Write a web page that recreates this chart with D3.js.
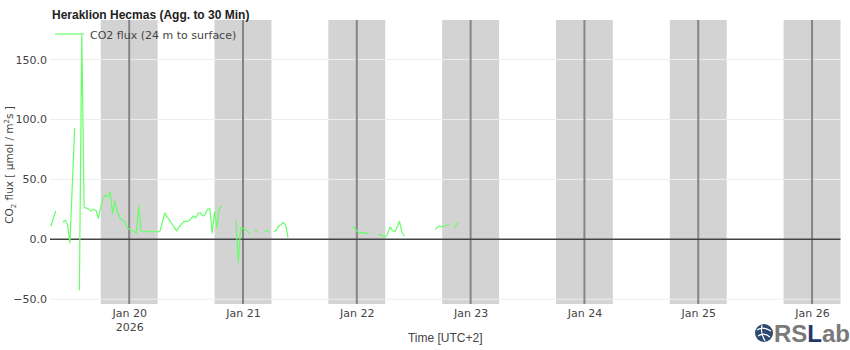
<!DOCTYPE html>
<html>
<head>
<meta charset="utf-8">
<script src="https://cdn.jsdelivr.net/npm/d3@7"></script>
<style>
  body { margin: 0; background: #fff; }
  svg { display: block; }
</style>
</head>
<body>
<div id="chart"></div>
<script>

// 30 min aggregated CO2 flux, null = gap in the record
var times = [
  "2026-01-19 07:30", "2026-01-19 08:30", "2026-01-19 09:00",
  "2026-01-19 10:00", "2026-01-19 10:30", "2026-01-19 11:00", "2026-01-19 11:30", "2026-01-19 12:30", "2026-01-19 13:00",
  "2026-01-19 13:30", "2026-01-19 14:00", "2026-01-19 14:30", "2026-01-19 15:00", "2026-01-19 15:30", "2026-01-19 16:00",
  "2026-01-19 16:30", "2026-01-19 17:00", "2026-01-19 17:30", "2026-01-19 18:00", "2026-01-19 18:30", "2026-01-19 19:00",
  "2026-01-19 19:30", "2026-01-19 20:00", "2026-01-19 20:30", "2026-01-19 21:00", "2026-01-19 21:30", "2026-01-19 22:00",
  "2026-01-19 22:30", "2026-01-19 23:00", "2026-01-19 23:30",
  "2026-01-20 00:00", "2026-01-20 00:30", "2026-01-20 01:00", "2026-01-20 01:30", "2026-01-20 02:00", "2026-01-20 02:30",
  "2026-01-20 03:00", "2026-01-20 03:30", "2026-01-20 04:00", "2026-01-20 04:30", "2026-01-20 05:00", "2026-01-20 05:30",
  "2026-01-20 06:00", "2026-01-20 06:30", "2026-01-20 07:00", "2026-01-20 07:30", "2026-01-20 08:00", "2026-01-20 08:30",
  "2026-01-20 09:00", "2026-01-20 09:30", "2026-01-20 10:00", "2026-01-20 10:30", "2026-01-20 11:00", "2026-01-20 11:30",
  "2026-01-20 12:00", "2026-01-20 12:30", "2026-01-20 13:00", "2026-01-20 13:30", "2026-01-20 14:00", "2026-01-20 14:30",
  "2026-01-20 15:00", "2026-01-20 15:30", "2026-01-20 16:00", "2026-01-20 16:30", "2026-01-20 17:00", "2026-01-20 17:30",
  "2026-01-20 18:00", "2026-01-20 18:30", "2026-01-20 19:00", "2026-01-20 19:30", "2026-01-20 20:00",
  "2026-01-20 22:30", "2026-01-20 23:00", "2026-01-20 23:30",
  "2026-01-21 00:00", "2026-01-21 00:30", "2026-01-21 01:00", "2026-01-21 01:30", "2026-01-21 02:00",
  "2026-01-21 02:30", "2026-01-21 03:00", "2026-01-21 03:30",
  "2026-01-21 04:30", "2026-01-21 05:00", "2026-01-21 05:30", "2026-01-21 06:00",
  "2026-01-21 06:30", "2026-01-21 07:00", "2026-01-21 07:30", "2026-01-21 08:00", "2026-01-21 08:30", "2026-01-21 09:00",
  "2026-01-21 09:30", "2026-01-21 10:00",
  "2026-01-21 23:00", "2026-01-21 23:30",
  "2026-01-22 00:00", "2026-01-22 00:30", "2026-01-22 01:00", "2026-01-22 01:30", "2026-01-22 02:00", "2026-01-22 02:30",
  "2026-01-22 03:00",
  "2026-01-22 04:30", "2026-01-22 05:00", "2026-01-22 05:30", "2026-01-22 06:00", "2026-01-22 06:30", "2026-01-22 07:00",
  "2026-01-22 07:30", "2026-01-22 08:00", "2026-01-22 08:30", "2026-01-22 09:00", "2026-01-22 09:30", "2026-01-22 10:00",
  "2026-01-22 10:30",
  "2026-01-22 16:30", "2026-01-22 17:00", "2026-01-22 17:30", "2026-01-22 18:00", "2026-01-22 18:30", "2026-01-22 19:00",
  "2026-01-22 19:30", "2026-01-22 20:00",
  "2026-01-22 20:30", "2026-01-22 21:00", "2026-01-22 21:30"
];

var flux = [
  11, 23.6, null,
  14.2, 15.9, 12.5, -3, 92.8, null,
  -42.6, 171, 26.5, 26, 25, 23.5,
  25, 24, 17.5, 27, 34, 36.8,
  35.4, 39.5, 21.5, 32, 23, 18,
  15.9, 15.3, 10,
  8.5, 7.5, 7, 4.8, 27.6, 6.9,
  6.1, 6.9, 6.1, 6.9, 6.1, 6.9,
  6.1, 6.9, 14, 22, 18.5, 16,
  13, 10, 7, 10, 12.5, 14.5,
  15.2, 15.2, 17, 19.5, 17.8, 21.5,
  22.3, 19.5, 20.6, 25, 25.5, 5.3,
  23, 9.8, 25.7, 28, null,
  15.9, -19, 9.5,
  9, 8.5, 6.5, 4, null,
  7.5, 6.1, null,
  6.1, 7.5, 5.6, null,
  6.1, 7.5, 11, 12, 14, 12,
  1.4, null,
  10.3, 9.5,
  7, 5.3, 5.5, 5.6, 4.7, 5.3,
  null,
  4.2, 3.5, 2.8, 1.9, 4.7, 10.3,
  7.5, 6.1, 10.3, 15, 6.1, 2.5,
  null,
  8.4, 10, 11.1, 10.3, 11.1, 11.7,
  12.3, null,
  9.5, 12, 14.5
];

// shaded night periods (18:00 - 06:00)
var nightStart = ["2026-01-19 18:00", "2026-01-20 18:00", "2026-01-21 18:00", "2026-01-22 18:00",
                  "2026-01-23 18:00", "2026-01-24 18:00", "2026-01-25 18:00"];
var nightEnd   = ["2026-01-20 06:00", "2026-01-21 06:00", "2026-01-22 06:00", "2026-01-23 06:00",
                  "2026-01-24 06:00", "2026-01-25 06:00", "2026-01-26 06:00"];

var dayTicks  = ["2026-01-20", "2026-01-21", "2026-01-22", "2026-01-23", "2026-01-24", "2026-01-25", "2026-01-26"];
var dayLabels = ["Jan 20", "Jan 21", "Jan 22", "Jan 23", "Jan 24", "Jan 25", "Jan 26"];
var yTicks = [-50, 0, 50, 100, 150];

var xRange = ["2026-01-19 07:18", "2026-01-26 06:00"];
var yRange = [-54, 183];

var parseTime = d3.timeParse("%Y-%m-%d %H:%M");
var parseDay = d3.timeParse("%Y-%m-%d");

var data = times.map(function(t, i) { return {t: parseTime(t), v: flux[i]}; });

// dimensions
var W = 850, H = 350;
var margin = {top: 20, right: 9.5, bottom: 46, left: 50},
    width = W - margin.left - margin.right,
    height = H - margin.top - margin.bottom;

var x = d3.scaleTime()
    .domain(xRange.map(parseTime))
    .range([0, width]);
var y = d3.scaleLinear()
    .domain(yRange)
    .range([height, 0]);

var svg = d3.select("#chart").append("svg")
    .attr("width", W)
    .attr("height", H);

var g = svg.append("g")
    .attr("transform", "translate(" + margin.left + "," + margin.top + ")");

// night bands
g.append("g").selectAll("rect")
    .data(nightStart)
    .enter().append("rect")
    .attr("x", function(d) { return x(parseTime(d)); })
    .attr("width", function(d, i) { return x(parseTime(nightEnd[i])) - x(parseTime(d)); })
    .attr("y", 0)
    .attr("height", height)
    .attr("fill", "#d3d3d3");

// horizontal grid
g.append("g").selectAll("line")
    .data(yTicks.filter(function(d) { return d !== 0; }))
    .enter().append("line")
    .attr("x1", 0).attr("x2", width)
    .attr("y1", function(d) { return y(d); })
    .attr("y2", function(d) { return y(d); })
    .attr("stroke", "#eeeeee")
    .attr("stroke-width", 1);

// midnight lines
g.append("g").selectAll("line")
    .data(dayTicks)
    .enter().append("line")
    .attr("x1", function(d) { return x(parseDay(d)); })
    .attr("x2", function(d) { return x(parseDay(d)); })
    .attr("y1", 0).attr("y2", height)
    .attr("stroke", "#858585")
    .attr("stroke-width", 2);

// zero line
g.append("line")
    .attr("x1", 0).attr("x2", width)
    .attr("y1", y(0)).attr("y2", y(0))
    .attr("stroke", "#444")
    .attr("stroke-width", 1.5);

// the flux trace
var line = d3.line()
    .defined(function(d) { return d.v !== null; })
    .x(function(d) { return x(d.t); })
    .y(function(d) { return y(d.v); });

g.append("path")
    .datum(data)
    .attr("fill", "none")
    .attr("stroke", "#66ff66")
    .attr("stroke-width", 1.2)
    .attr("stroke-linejoin", "round")
    .attr("d", line);

// y axis
var yAxis = g.append("g")
    .call(d3.axisLeft(y).tickValues(yTicks).tickSize(0).tickPadding(3)
        .tickFormat(d3.format(".1f")));
yAxis.select(".domain").remove();
yAxis.selectAll("text")
    .attr("fill", "#444")
    .style("font-family", "'DejaVu Sans', Verdana, sans-serif")
    .style("font-size", "11px");

// x axis
var xAxis = g.append("g")
    .attr("transform", "translate(0," + height + ")")
    .call(d3.axisBottom(x).tickValues(dayTicks.map(parseDay)).tickSize(0).tickPadding(5)
        .tickFormat(function(d, i) { return dayLabels[i]; }));
xAxis.select(".domain").remove();
xAxis.selectAll("text")
    .attr("fill", "#444")
    .style("font-family", "'DejaVu Sans', Verdana, sans-serif")
    .style("font-size", "11px");
// year under the first tick
xAxis.select(".tick text")
    .append("tspan")
    .attr("x", 0)
    .attr("dy", "1.3em")
    .text("2026");

// titles
svg.append("text")
    .attr("x", 52).attr("y", 18.5)
    .style("font-family", "'Liberation Sans', Arial, sans-serif")
    .style("font-size", "12px")
    .style("font-weight", "bold")
    .attr("fill", "#222")
    .text("Heraklion Hecmas (Agg. to 30 Min)");

svg.append("text")
    .attr("x", margin.left + width / 2).attr("y", 342)
    .attr("text-anchor", "middle")
    .style("font-family", "'Liberation Sans', Arial, sans-serif")
    .style("font-size", "12px")
    .attr("fill", "#444")
    .text("Time [UTC+2]");

var yTitle = svg.append("text")
    .attr("transform", "translate(13," + (margin.top + y(62)) + ") rotate(-90)")
    .attr("text-anchor", "middle")
    .style("font-family", "'DejaVu Sans', Verdana, sans-serif")
    .style("font-size", "10.5px")
    .attr("fill", "#444");
yTitle.append("tspan").text("CO");
yTitle.append("tspan").attr("font-size", "7px").attr("dy", 3).text("2");
yTitle.append("tspan").attr("dy", -3).text(" flux [ \u03bcmol / m");
yTitle.append("tspan").attr("font-size", "7px").attr("dy", -4.5).text("2");
yTitle.append("tspan").attr("dy", 4.5).text("s ]");

// legend
var legend = svg.append("g");
legend.append("line")
    .attr("x1", 55).attr("x2", 84)
    .attr("y1", 34).attr("y2", 34)
    .attr("stroke", "#66ff66")
    .attr("stroke-width", 1.2);
legend.append("text")
    .attr("x", 90).attr("y", 38.5)
    .style("font-family", "'DejaVu Sans', Verdana, sans-serif")
    .style("font-size", "11px")
    .attr("fill", "#444")
    .text("CO2 flux (24 m to surface)");

// RSLab logo
var logo = svg.append("g");
logo.append("circle")
    .attr("cx", 764).attr("cy", 333).attr("r", 9)
    .attr("fill", "#2d4a6e");
logo.append("path")
    .attr("d", "M757,330 Q763,326 771,331 M758,336 Q764,332 770,337 M762,325 Q760,333 765,341")
    .attr("fill", "none")
    .attr("stroke", "#fff")
    .attr("stroke-width", 1.2);
var logoText = logo.append("text")
    .attr("x", 774).attr("y", 342)
    .style("font-family", "'Liberation Sans', Arial, sans-serif")
    .style("font-size", "24px")
    .style("font-weight", "bold")
    .attr("fill", "#7a7a7a");
logoText.append("tspan").text("RS");
logoText.append("tspan").attr("fill", "#1f3a68").text("L");
logoText.append("tspan").text("ab");

</script>
</body>
</html>
